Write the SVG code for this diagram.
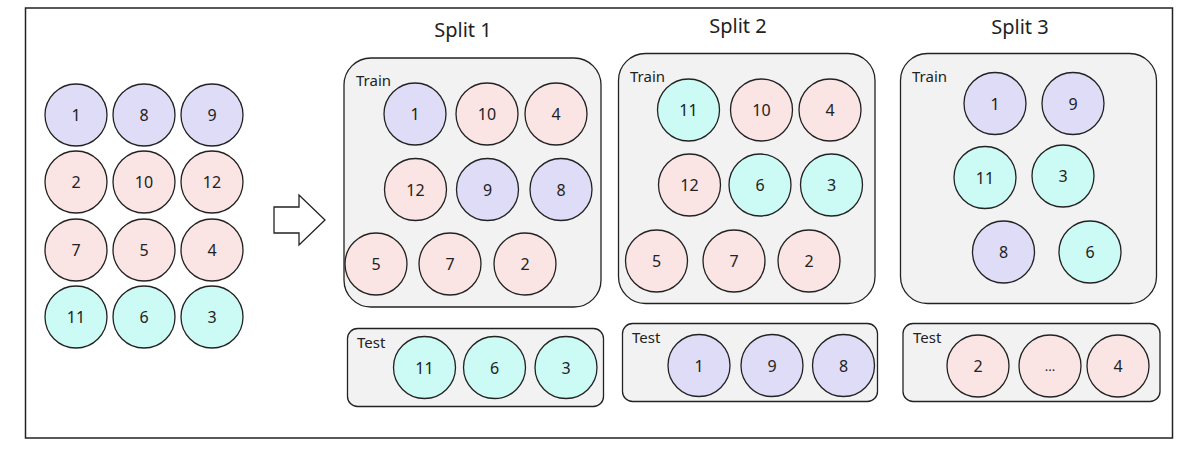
<svg xmlns="http://www.w3.org/2000/svg" width="1199" height="450" viewBox="0 0 1199 450">
<style>
text{font-family:"Noto Sans","DejaVu Sans",sans-serif;fill:#222}
.n{font-size:16px;text-anchor:middle;dominant-baseline:central}
.t{font-size:20px;text-anchor:middle}
.l{font-size:15px}
circle{stroke:#222;stroke-width:1.3}
.p{fill:#dedcf7}.r{fill:#fae4e4}.c{fill:#ccfbf5}
.box{fill:#f2f2f2;stroke:#222;stroke-width:1.3}
</style>
<rect x="25.5" y="8" width="1147" height="430" fill="#fff" stroke="#222" stroke-width="1.5"/>
<g id="source">
<circle class="p" cx="76" cy="115" r="31"/><text class="n" x="76" y="115">1</text>
<circle class="p" cx="144" cy="115" r="31"/><text class="n" x="144" y="115">8</text>
<circle class="p" cx="212" cy="115" r="31"/><text class="n" x="212" y="115">9</text>
<circle class="r" cx="76" cy="182" r="31"/><text class="n" x="76" y="182">2</text>
<circle class="r" cx="144" cy="182" r="31"/><text class="n" x="144" y="182">10</text>
<circle class="r" cx="212" cy="182" r="31"/><text class="n" x="212" y="182">12</text>
<circle class="r" cx="76" cy="250" r="31"/><text class="n" x="76" y="250">7</text>
<circle class="r" cx="144" cy="250" r="31"/><text class="n" x="144" y="250">5</text>
<circle class="r" cx="212" cy="250" r="31"/><text class="n" x="212" y="250">4</text>
<circle class="c" cx="76" cy="317" r="31"/><text class="n" x="76" y="317">11</text>
<circle class="c" cx="144" cy="317" r="31"/><text class="n" x="144" y="317">6</text>
<circle class="c" cx="212" cy="317" r="31"/><text class="n" x="212" y="317">3</text>
</g>
<g id="connectors">
<polygon points="274,207 299,207 299,195 325,220 299,245 299,233 274,233" fill="#fff" stroke="#222" stroke-width="1.3"/>
</g>
<g id="split1">
<text class="t" x="463" y="37">Split 1</text>
<rect class="box" x="344" y="58" width="257" height="249" rx="27"/>
<text class="l" x="356" y="86">Train</text>
<circle class="p" cx="415" cy="114" r="31"/><text class="n" x="415" y="114">1</text>
<circle class="r" cx="487" cy="114" r="31"/><text class="n" x="487" y="114">10</text>
<circle class="r" cx="556" cy="114" r="31"/><text class="n" x="556" y="114">4</text>
<circle class="r" cx="415.5" cy="189.5" r="31"/><text class="n" x="415.5" y="189.5">12</text>
<circle class="p" cx="487.5" cy="189.5" r="31"/><text class="n" x="487.5" y="189.5">9</text>
<circle class="p" cx="561" cy="189.5" r="31"/><text class="n" x="561" y="189.5">8</text>
<circle class="r" cx="376" cy="264" r="31"/><text class="n" x="376" y="264">5</text>
<circle class="r" cx="450" cy="264" r="31"/><text class="n" x="450" y="264">7</text>
<circle class="r" cx="525" cy="264" r="31"/><text class="n" x="525" y="264">2</text>
<rect class="box" x="347.5" y="328.5" width="256" height="78" rx="10"/>
<text class="l" x="357" y="348">Test</text>
<circle class="c" cx="424.5" cy="367.5" r="31"/><text class="n" x="424.5" y="367.5">11</text>
<circle class="c" cx="494.5" cy="367.5" r="31"/><text class="n" x="494.5" y="367.5">6</text>
<circle class="c" cx="566" cy="367.5" r="31"/><text class="n" x="566" y="367.5">3</text>
</g>
<g id="split2">
<text class="t" x="738" y="33">Split 2</text>
<rect class="box" x="618.5" y="53.5" width="256.5" height="250" rx="27"/>
<text class="l" x="630" y="82">Train</text>
<circle class="c" cx="688.5" cy="110" r="31"/><text class="n" x="688.5" y="110">11</text>
<circle class="r" cx="761.5" cy="110" r="31"/><text class="n" x="761.5" y="110">10</text>
<circle class="r" cx="830" cy="110" r="31"/><text class="n" x="830" y="110">4</text>
<circle class="r" cx="689.5" cy="185" r="31"/><text class="n" x="689.5" y="185">12</text>
<circle class="c" cx="760" cy="185" r="31"/><text class="n" x="760" y="185">6</text>
<circle class="c" cx="831.5" cy="185" r="31"/><text class="n" x="831.5" y="185">3</text>
<circle class="r" cx="656.5" cy="261" r="31"/><text class="n" x="656.5" y="261">5</text>
<circle class="r" cx="734" cy="261" r="31"/><text class="n" x="734" y="261">7</text>
<circle class="r" cx="809" cy="261" r="31"/><text class="n" x="809" y="261">2</text>
<rect class="box" x="622.5" y="323.5" width="255" height="78" rx="10"/>
<text class="l" x="632" y="343">Test</text>
<circle class="p" cx="699" cy="365.5" r="31"/><text class="n" x="699" y="365.5">1</text>
<circle class="p" cx="772" cy="365.5" r="31"/><text class="n" x="772" y="365.5">9</text>
<circle class="p" cx="843.5" cy="365.5" r="31"/><text class="n" x="843.5" y="365.5">8</text>
</g>
<g id="split3">
<text class="t" x="1020" y="34">Split 3</text>
<rect class="box" x="900.5" y="53.5" width="256" height="250" rx="27"/>
<text class="l" x="912" y="82">Train</text>
<circle class="p" cx="995" cy="103.5" r="31"/><text class="n" x="995" y="103.5">1</text>
<circle class="p" cx="1073" cy="103.5" r="31"/><text class="n" x="1073" y="103.5">9</text>
<circle class="c" cx="985" cy="177.5" r="31"/><text class="n" x="985" y="177.5">11</text>
<circle class="c" cx="1063" cy="176" r="31"/><text class="n" x="1063" y="176">3</text>
<circle class="p" cx="1003.5" cy="252" r="31"/><text class="n" x="1003.5" y="252">8</text>
<circle class="c" cx="1090" cy="252" r="31"/><text class="n" x="1090" y="252">6</text>
<rect class="box" x="903" y="323.5" width="257" height="78" rx="10"/>
<text class="l" x="913" y="343">Test</text>
<circle class="r" cx="978" cy="366" r="31"/><text class="n" x="978" y="366">2</text>
<circle class="r" cx="1050" cy="366" r="31"/><text class="n" x="1050" y="366" style="font-size:13px">...</text>
<circle class="r" cx="1118" cy="366" r="31"/><text class="n" x="1118" y="366">4</text>
</g>
</svg>
